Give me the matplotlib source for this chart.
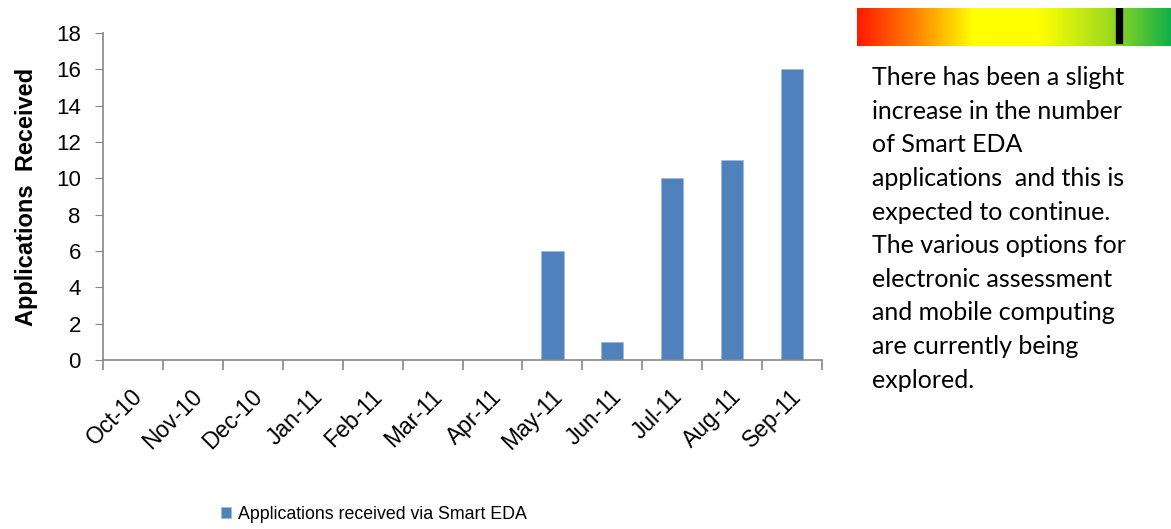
import matplotlib.pyplot as plt
import numpy as np
from matplotlib.colors import LinearSegmentedColormap
import matplotlib.transforms as mtransforms

# data
months = ["Oct-10", "Nov-10", "Dec-10", "Jan-11", "Feb-11", "Mar-11",
          "Apr-11", "May-11", "Jun-11", "Jul-11", "Aug-11", "Sep-11"]
applications = [0, 0, 0, 0, 0, 0, 0, 6, 1, 10, 11, 16]
series_name = "Applications received via Smart EDA"
rating = 0.835  # position of the marker on the red-green scale

comment = ("There has been a slight\n"
           "increase in the number\n"
           "of Smart EDA\n"
           "applications  and this is\n"
           "expected to continue.\n"
           "The various options for\n"
           "electronic assessment\n"
           "and mobile computing\n"
           "are currently being\n"
           "explored.")

plt.rcParams["font.family"] = ["Liberation Sans", "DejaVu Sans"]
axis_grey = "#868686"
bar_blue = "#4F81BD"

fig = plt.figure(figsize=(11.71, 5.29), dpi=100)

# main bar chart
ax = fig.add_axes([0.088, 0.3195, 0.614, 0.6181])
x = np.arange(len(months))
ax.bar(x, applications, width=0.37, color=bar_blue, edgecolor="#9DB9DE",
       linewidth=0.6, label=series_name)
ax.set_xlim(-0.5, len(months) - 0.5)
ax.set_ylim(0, 18)
ax.set_yticks(range(0, 19, 2))
ax.tick_params(axis="y", labelsize=16, length=6, color=axis_grey, pad=10)

# category ticks sit on the boundaries, labels in the middle
ax.set_xticks(np.arange(-0.5, len(months)), minor=False)
ax.set_xticklabels([])
ax.set_xticks(x, minor=True)
ax.set_xticklabels(months, minor=True, rotation=45, ha="right", va="top",
                   rotation_mode="anchor", fontsize=16.5)
ax.tick_params(axis="x", which="major", length=7, color=axis_grey, width=1.2)
ax.tick_params(axis="x", which="minor", length=0, pad=18)
shift = mtransforms.ScaledTranslation(-2 / 100, 0, fig.dpi_scale_trans)
for lab in ax.get_xticklabels(minor=True):
    lab.set_transform(lab.get_transform() + shift)

for side in ["top", "right"]:
    ax.spines[side].set_visible(False)
for side in ["left", "bottom"]:
    ax.spines[side].set_color(axis_grey)
    ax.spines[side].set_linewidth(1.2)

ax.set_ylabel("Applications  Received", fontsize=17, fontweight="bold",
              labelpad=13)

fig.legend(loc="center", bbox_to_anchor=(0.319, 0.028), frameon=False,
           fontsize=12.8, handlelength=0.6, handleheight=0.6,
           handletextpad=0.35)

# red -> yellow -> green rating bar
cax = fig.add_axes([857 / 1171, 1 - 46 / 529, 314 / 1171, 38 / 529])
cmap = LinearSegmentedColormap.from_list(
    "rag", [(0.0, "#FF1A00"), (0.18, "#FF8000"), (0.37, "#FFFF00"),
            (0.58, "#FFFF00"), (0.8, "#A0DC1E"), (1.0, "#10B048")])
cax.imshow(np.linspace(0, 1, 400)[None, :], aspect="auto", cmap=cmap,
           extent=[0, 1, 0, 1])
cax.axvspan(rating - 0.009, rating + 0.009, ymin=0.08, ymax=1.0, color="black")
cax.set_xlim(0, 1)
cax.set_ylim(0, 1)
cax.axis("off")

fig.text(872 / 1171, 1 - 66 / 529, comment, ha="left", va="top",
         family=["Lato", "DejaVu Sans"], fontsize=18, linespacing=1.56)

fig.savefig("out.png", dpi=100)
